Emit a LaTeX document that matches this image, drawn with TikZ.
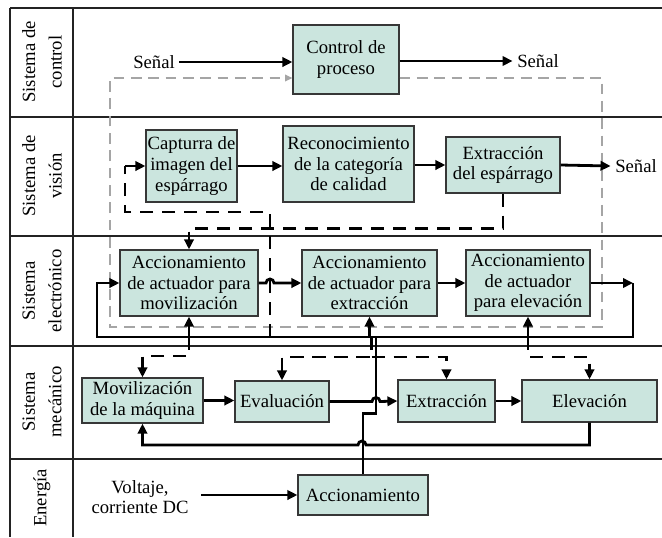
\documentclass[tikz,border=0pt]{standalone}
\usepackage{fontspec}
\setmainfont{Liberation Serif}
\newfontfamily\tmsfont{Liberation Serif}
\usetikzlibrary{arrows.meta,calc}
\definecolor{boxfill}{RGB}{203,229,222}
\definecolor{boxline}{RGB}{55,55,55}
\definecolor{gridc}{RGB}{35,35,35}
\definecolor{greyd}{RGB}{165,165,165}
\begin{document}
\begin{tikzpicture}[x=0.75pt,y=-0.75pt,
  font=\tmsfont\fontsize{14}{15.5}\selectfont,
  >={Triangle[length=7.5pt,width=7pt]},
  box/.style={draw=boxline, fill=boxfill, line width=0.9pt, inner sep=0pt, align=center},
  sz/.style 2 args={minimum width=#1*0.75pt, minimum height=#2*0.75pt},
  conn/.style={line width=2.1pt, black},
  dsh/.style={line width=2.1pt, black, dash pattern=on 10pt off 6.5pt},
  grd/.style={line width=1.1pt, draw=gridc},
  lab/.style={rotate=90, align=center, font=\tmsfont\fontsize{14}{20}\selectfont},
  gdash/.style={line width=1pt, draw=greyd, dash pattern=on 8pt off 5pt}
]
\useasboundingbox (0,0) rectangle (662,537);
\fill[white] (0,0) rectangle (662,537);

% grid
\foreach \yy in {8,117,236,346,459} \draw[grd] (10,\yy) -- (662,\yy);
\draw[grd] (10,8) -- (10,537);
\draw[grd] (73,8) -- (73,537);

% row labels
\node[lab] (l1) at (42,62) {Sistema de\\control};
\node[lab] (l2) at (42,176) {Sistema de\\visión};
\node[lab] (l3) at (42,291) {Sistema\\electrónico};
\node[lab] (l4) at (42,402) {Sistema\\mecánico};
\node[lab] (l5) at (42,498) {Energía};

% grey dashed loop
\coordinate (g1) at (602,78);
\coordinate (g2) at (110,327);

% boxes
\node[box,sz={106}{69}] (ctrl) at (346,59.5) {Control de\\proceso};
\node[box,sz={91}{72}] (cap) at (191.5,166) {Capturra de\\imagen del\\espárrago};
\node[box,sz={131}{76}] (rec) at (348.5,164) {Reconocimiento\\de la categoría\\de calidad};
\node[box,sz={114}{56}] (ext) at (503,165) {Extracción\\del espárrago};
\node[box,sz={138}{66}] (act1) at (189,283) {Accionamiento\\de actuador para\\movilización};
\node[box,sz={135}{66}] (act2) at (369.5,283) {Accionamiento\\de actuador para\\extracción};
\node[box,sz={124}{66}] (act3) at (528,283) {Accionamiento\\de actuador\\para elevación};
\node[box,sz={121}{45}] (mov) at (142.5,400.5) {Movilización\\de la máquina};
\node[box,sz={94}{41}] (eva) at (282,401.5) {Evaluación};
\node[box,sz={97}{42}] (extr) at (446.5,401) {Extracción};
\node[box,sz={135}{42}] (elev) at (589.5,401) {Elevación};
\node[box,sz={130}{40}] (acc) at (363,495) {Accionamiento};

\draw[gdash,-{Triangle[length=5.5pt,width=5pt]}] (ctrl.east |- g1) -- (g1) -- (g1 |- g2) -- (g2) -- (g2 |- g1) -- (ctrl.west |- g1);

% free texts
\node (s1) at (154,62) {Señal};
\node (s2) at (538,61) {Señal};
\node (s3) at (636,166) {Señal};
\node[align=center] (volt) at (140,497) {Voltaje,\\corriente DC};

% control row
\draw[conn,->] (s1.east) -- (s1.east -| ctrl.west);
\draw[conn,->] (ctrl.east |- s2.west) -- (s2.west);

% vision row
\draw[conn,->] (cap.east) -- (cap.east -| rec.west);
\draw[conn,->] (rec.east |- ext.west) -- (ext.west);
\draw[conn,->] (ext.east) -- (s3.west);

\coordinate (d1) at (270,212);
\coordinate (d2) at (125,212);
\coordinate (d3) at (270,337);
\draw[dsh] (d3) -- (d1) -- (d2) -- (d2 |- cap.west);
\draw[conn,->] (d2 |- cap.west) -- (cap.west);
\draw[dsh,->] (ext.south) -- ++(0,35) -| (act1.north);

% electronic row
\coordinate (L) at (97,337);
\coordinate (R) at (633,337);
\coordinate (h1) at (266,283);
\draw[conn,->] (act1.east) -- (h1) arc[start angle=180,end angle=0,radius=3pt] -- (act2.west);
\draw[conn,->] (act2.east) -- (act3.west);
\draw[conn,->] (act3.east) -- (act3.east -| R);
\draw[conn,->] (act3.east -| R) -- (R) -- (L) -- (L |- act1.west) -- (act1.west);
\draw[conn,->] (act1.south |- L) -- (act1.south);
\draw[conn,->] (act2.south |- L) -- (act2.south);
\draw[conn,->] (act3.south |- L) -- (act3.south);

% dashed to mechanical
\draw[dsh,->] (act1.south |- L) -- ++(0,19) -| (mov.north);
\draw[dsh,->] ($(act2.south |- L)+(2,0)$) -- ++(0,20) -| (eva.north);
\draw[dsh,->] ($(act2.south |- L)+(2,20)$) -| (extr.north);
\draw[dsh,->] (act3.south |- L) -- ++(0,20) -| (elev.north);

% mechanical row
\coordinate (h2) at (372,401.5);
\coordinate (FB) at (366,445);
\draw[conn,->] (mov.east) -- (mov.east -| eva.west);
\draw[conn,->] (eva.east) -- (h2) arc[start angle=180,end angle=0,radius=3pt] -- (extr.west);
\draw[conn,->] (extr.east) -- (elev.west);
\draw[conn,->] (elev.south) |- (FB) arc[start angle=0,end angle=180,radius=3pt] -| (mov.south);

% energy
\coordinate (P) at (376,337);
\draw[conn] (acc.north) -- ++(0,-61) -- ++(13,0) -- (P);
\draw[conn,->] (volt.east |- acc.west) ++(8,0) -- (acc.west);
\end{tikzpicture}
\end{document}
